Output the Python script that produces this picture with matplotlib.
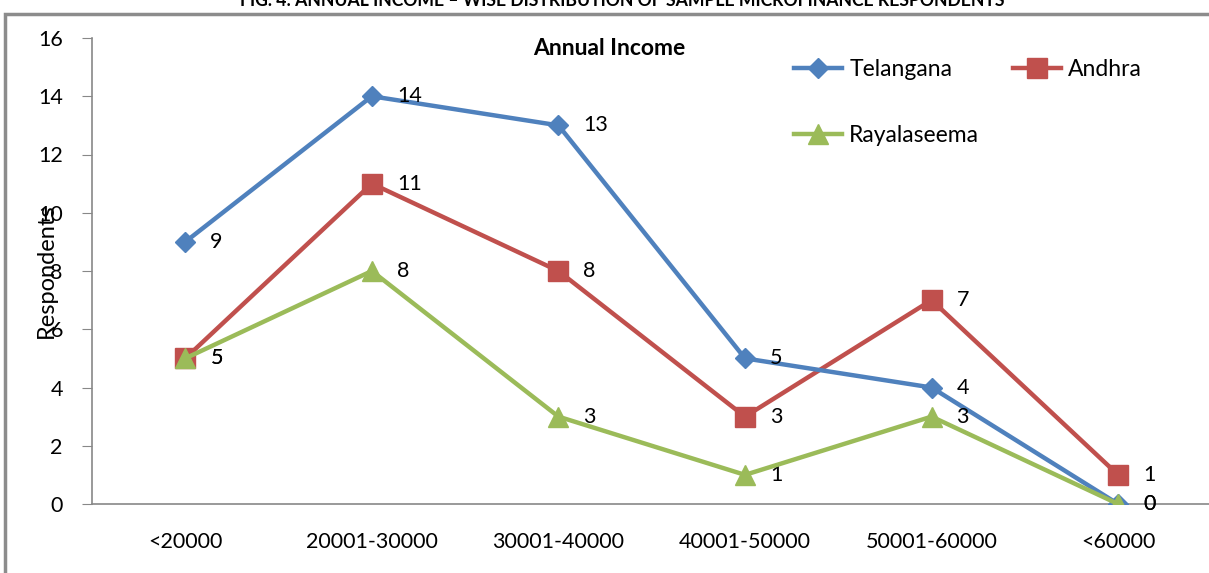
import matplotlib
matplotlib.use("Agg")
import matplotlib.pyplot as plt
from matplotlib.patches import Rectangle

plt.rcParams['font.family'] = ['Lato', 'DejaVu Sans']

categories = ["<20000", "20001-30000", "30001-40000", "40001-50000", "50001-60000", "<60000"]
telangana = [9, 14, 13, 5, 4, 0]
andhra = [5, 11, 8, 3, 7, 1]
rayalaseema = [5, 8, 3, 1, 3, 0]

fig = plt.figure(figsize=(12.09, 5.73), dpi=100)
ax = fig.add_axes([92 / 1209, 69 / 573, 1 - 92 / 1209 + 0.002, (504 - 38) / 573])

x = list(range(len(categories)))
h_tel, = ax.plot(x, telangana, color="#4F81BD", lw=3.2, marker="D", ms=10, label="Telangana", zorder=3)
h_and, = ax.plot(x, andhra, color="#C0504D", lw=3.2, marker="s", ms=14, label="Andhra", zorder=2)
h_ray, = ax.plot(x, rayalaseema, color="#9BBB59", lw=3.2, marker="^", ms=15, label="Rayalaseema", zorder=4)

for series in (telangana, andhra, rayalaseema):
    for xi, v in zip(x, series):
        ax.annotate(str(v), (xi, v), xytext=(18, 0), textcoords="offset points",
                    va="center", ha="left", fontsize=15.5)

ax.set_xlim(-0.5, 5.5)
ax.set_ylim(0, 16)
ax.set_yticks(range(0, 17, 2))
ax.set_xticks(x)
ax.set_xticklabels(categories)
ax.tick_params(axis="y", length=7, color="#888888", labelsize=15.5, pad=14)
ax.tick_params(axis="x", length=0, labelsize=15.5, pad=20)
for s in ("top", "right"):
    ax.spines[s].set_visible(False)
for s in ("left", "bottom"):
    ax.spines[s].set_color("#888888")
    ax.spines[s].set_linewidth(1.2)

ax.set_ylabel("Respondents", fontsize=17)
ax.yaxis.set_label_coords(-0.031, 0.5)

ax.text(0.462, 0.978, "Annual Income", transform=ax.transAxes, ha="center", va="center",
        fontsize=16.5, fontweight="bold")

ax.legend([h_tel, h_ray, h_and], ["Telangana", "Rayalaseema", "Andhra"], ncol=2,
          frameon=False, fontsize=16.5, loc="upper left", bbox_to_anchor=(0.609, 1.0),
          labelspacing=2.0, columnspacing=1.45, handlelength=2.1, handletextpad=0.3)

fig.text(0.515, 1.0, "FIG. 4: ANNUAL INCOME \u2013 WISE DISTRIBUTION OF SAMPLE MICROFINANCE RESPONDENTS",
         ha="center", va="center", fontsize=12.7, fontweight="bold")
fig.patches.append(Rectangle((5 / 1209, -0.05), 1.1, 1 - 14 / 573 + 0.05, transform=fig.transFigure,
                             fill=False, edgecolor="#8c8c8c", lw=2.5))

fig.savefig("out.png", dpi=100)
